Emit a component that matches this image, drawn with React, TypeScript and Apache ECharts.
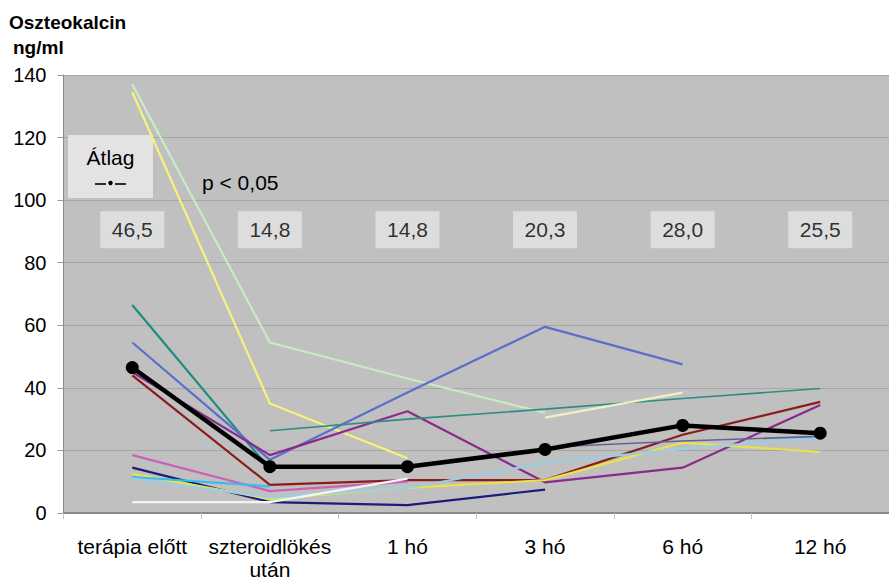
import React, { useEffect, useRef } from "react";
import * as echarts from "echarts";

// Measurement times
const categories = ["terápia előtt", "szteroidlökés\nután", "1 hó", "3 hó", "6 hó", "12 hó"];

// Group mean (ng/ml)
const meanValues = [46.5, 14.8, 14.8, 20.3, 28.0, 25.5];

// Individual patients' osteocalcin (ng/ml); null = no measurement
const patientPaleGreen = [137, 54.5, 43, 32, null, null];
const patientYellow = [134.5, 35, 17.5, null, null, null];
const patientTeal = [66.5, 14, null, null, null, null];
const patientBlue = [54.5, 17, 38.5, 59.5, 47.5, null];
const patientPurple = [45, 18.5, 32.5, 9.8, 14.5, 34.5];
const patientDarkRed = [44, 9, 10.5, 10.5, 25, 35.5];
const patientPink = [18.5, 7, 10, null, null, null];
const patientNavy = [14.5, 3.5, 2.5, 7.5, null, null];
const patientGold = [12.5, 4.5, 8, 10.5, 22.5, 19.5];
const patientCyan = [11.5, 8.5, null, null, null, null];
const patientLightBlue = [11, 5, 8, 16, 20.5, 24];
const patientWhite = [3.5, 3.5, 11, null, null, null];
const patientSeaGreen = [null, 26.3, 30, 33.2, 36.6, 39.8];
const patientCream = [null, null, null, 30.5, 38.5, null];
const patientSlate = [null, null, null, 21, 23, 24.5];

// Y axis ticks
const yMin = 0;
const yMax = 140;
const yStep = 20;

// Height (in ng/ml) at which the mean value boxes sit
const meanLabelLevel = 90.5;

const FONT = "'Liberation Sans', Arial, Helvetica, sans-serif";

const patients: { data: (number | null)[]; color: string; width: number }[] = [
  { data: patientPaleGreen, color: "#c8ebc2", width: 2.2 },
  { data: patientYellow, color: "#f6f27a", width: 2.2 },
  { data: patientTeal, color: "#1d8c7e", width: 2.2 },
  { data: patientBlue, color: "#5a6fc9", width: 2.2 },
  { data: patientPurple, color: "#8a2a8c", width: 2.2 },
  { data: patientDarkRed, color: "#8a1c1c", width: 2.2 },
  { data: patientPink, color: "#cc62b6", width: 2.2 },
  { data: patientNavy, color: "#1c1c78", width: 2.2 },
  { data: patientGold, color: "#e8e24c", width: 2.2 },
  { data: patientCyan, color: "#35bdec", width: 2.2 },
  { data: patientLightBlue, color: "#9ccde6", width: 2.2 },
  { data: patientWhite, color: "#eef6fb", width: 2.2 },
  { data: patientSeaGreen, color: "#2a8f82", width: 1.6 },
  { data: patientCream, color: "#eef0c6", width: 2.2 },
  { data: patientSlate, color: "#5c6696", width: 1.6 },
];

const fmt = (v: number) => v.toFixed(1).replace(".", ",");

export default function App() {
  const ref = useRef<HTMLDivElement>(null);

  useEffect(() => {
    if (!ref.current) return;
    const chart = echarts.init(ref.current, null, { renderer: "svg" });

    const lineSeries = patients.map((p) => ({
      type: "line",
      data: p.data,
      connectNulls: false,
      showSymbol: false,
      symbol: "none",
      lineStyle: { color: p.color, width: p.width },
      z: 3,
      silent: true,
    }));

    chart.setOption({
      animation: false,
      backgroundColor: "#ffffff",
      textStyle: { fontFamily: FONT },
      grid: {
        left: 63.5,
        right: -8.5,
        top: 75,
        bottom: 67,
        show: true,
        backgroundColor: "#c0c0c0",
        borderWidth: 0,
      },
      xAxis: {
        type: "category",
        data: categories,
        boundaryGap: true,
        axisLine: { lineStyle: { color: "#7a7a7a", width: 1.5 } },
        axisTick: { show: true, length: 6, lineStyle: { color: "#c4c4c4" } },
        axisLabel: {
          color: "#000",
          fontSize: 21,
          fontFamily: FONT,
          margin: 22,
          lineHeight: 23,
          interval: 0,
        },
      },
      yAxis: {
        type: "value",
        min: yMin,
        max: yMax,
        interval: yStep,
        axisLine: { show: true, lineStyle: { color: "#8a8a8a", width: 1 } },
        axisTick: { show: true, length: 6, lineStyle: { color: "#9a9a9a" } },
        axisLabel: { color: "#000", fontSize: 20, fontFamily: FONT, margin: 17 },
        splitLine: { show: true, lineStyle: { color: "#a6a6a6", width: 1 } },
      },
      series: [
        ...lineSeries,
        {
          type: "line",
          data: meanValues,
          symbol: "circle",
          symbolSize: 13,
          showSymbol: true,
          itemStyle: { color: "#000" },
          lineStyle: { color: "#000", width: 4.5 },
          z: 5,
          silent: true,
        },
        {
          type: "scatter",
          data: meanValues.map((v, i) => [i, meanLabelLevel]),
          symbol: "rect",
          symbolSize: [64, 37],
          itemStyle: { color: "#e3e3e3" },
          z: 2,
          silent: true,
          label: {
            show: true,
            position: "inside",
            color: "#000",
            fontSize: 21,
            fontFamily: FONT,
            formatter: (p: any) => fmt(meanValues[p.dataIndex]),
          },
        },
      ],
      graphic: [
        {
          type: "text",
          left: 9,
          top: 13,
          style: { text: "Oszteokalcin", font: `bold 19px ${FONT}`, fill: "#000" },
        },
        {
          type: "text",
          left: 13,
          top: 38,
          style: { text: "ng/ml", font: `bold 19px ${FONT}`, fill: "#000" },
        },
        {
          type: "rect",
          shape: { x: 68, y: 135, width: 85, height: 63 },
          style: { fill: "#e3e3e3" },
          z: 1,
        },
        {
          type: "text",
          x: 110.5,
          y: 157,
          style: {
            text: "Átlag",
            font: `21px ${FONT}`,
            fill: "#000",
            align: "center",
            verticalAlign: "middle",
          },
          z: 2,
        },
        {
          type: "line",
          shape: { x1: 95, y1: 184, x2: 106, y2: 184 },
          style: { stroke: "#000", lineWidth: 1.6 },
          z: 2,
        },
        {
          type: "line",
          shape: { x1: 115, y1: 184, x2: 126, y2: 184 },
          style: { stroke: "#000", lineWidth: 1.6 },
          z: 2,
        },
        {
          type: "circle",
          shape: { cx: 110.5, cy: 183, r: 2.2 },
          style: { fill: "#000" },
          z: 2,
        },
        {
          type: "text",
          x: 202,
          y: 182,
          style: {
            text: "p < 0,05",
            font: `21px ${FONT}`,
            fill: "#000",
            verticalAlign: "middle",
          },
          z: 2,
        },
      ],
    });

    return () => chart.dispose();
  }, []);

  return (
    <div
      ref={ref}
      style={{ position: "fixed", left: 0, top: 0, width: 889, height: 581 }}
    />
  );
}
